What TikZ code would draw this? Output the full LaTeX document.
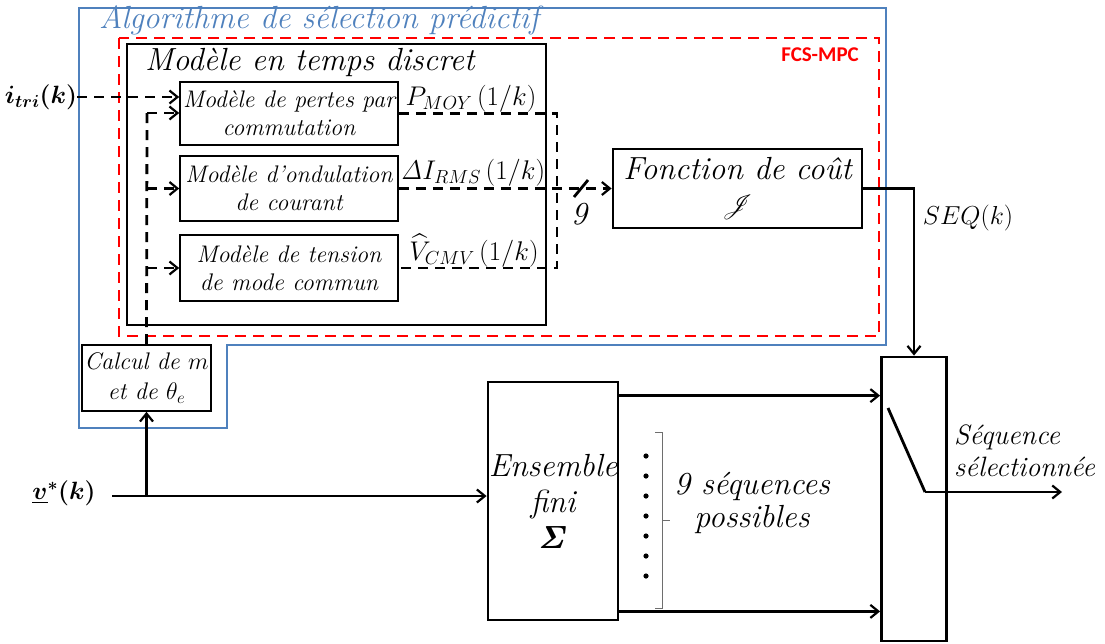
\documentclass[tikz,border=0pt]{standalone}
\usepackage{fix-cm}
\usepackage[no-math]{fontspec}
\usepackage{amsmath}
\usepackage{amssymb}
\usepackage{mathrsfs}
\usepackage{tikz}
\usetikzlibrary{arrows.meta, positioning, calc}
\newfontfamily\calibrifont{Carlito}
\definecolor{algoBlue}{RGB}{79, 129, 189}
\definecolor{mpcRed}{RGB}{255, 0, 0}
\definecolor{braceGray}{RGB}{110, 110, 110}

\begin{document}
\begin{tikzpicture}[
      x=1pt, y=-1pt,
      blk/.style    = {draw, line width=2.8pt, inner sep=0pt,
                       align=center, font=\fontsize{32}{36}\selectfont\itshape},
      modele/.style = {draw, line width=1.6pt, inner sep=0pt,
                       minimum width=218pt, align=center,
                       font=\fontsize{24}{28}\selectfont\itshape},
      lbl/.style    = {inner sep=0pt, font=\fontsize{26}{28}\selectfont\itshape},
      grand/.style  = {inner sep=0pt, font=\fontsize{32}{33}\selectfont\itshape},
      arrow/.style  = {-{Straight Barb[length=8pt, width=13pt, line width=2.2pt]}, line width=2.8pt},
      dasharrow/.style = {arrow, dash pattern=on 10pt off 7pt},
      dashline/.style  = {line width=2.8pt, dash pattern=on 10pt off 7pt},
    ]
    \useasboundingbox (0,0) rectangle (1105,643);
    %% ── Cadres ────────────────────────────────────────────────
    \draw[algoBlue, line width=2.6pt]
      (79,8) -- (886,8) -- (886,345) -- (227,345) -- (227,428) -- (79,428) -- cycle;
    \node[grand, anchor=west, text=algoBlue] (algoTitle) at (99,20)
      {Algorithme de sélection prédictif};
    \draw[mpcRed, line width=2.6pt, dash pattern=on 11pt off 7pt]
      (119,38) rectangle (879,336);
    \node[anchor=north east, inner sep=0pt, text=mpcRed,
          font=\fontsize{21}{24}\selectfont\calibrifont\bfseries] (mpcTitle) at (859,48) {FCS-MPC};
    \node[draw, line width=2.8pt, minimum width=419pt, minimum height=281pt] (discret) at (336.5,184.5) {};
    \node[grand, anchor=west] (discretTitle) at (145,62) {Modèle en temps discret};
    %% ── Nodos ──────────────────────────────────────────────────
    \node[modele, minimum height=63pt] (pertes) at (289,113.5) {Modèle de pertes par\\commutation};
    \node[modele, minimum height=65pt] (ondulation) at (289,188.5) {Modèle d’ondulation\\de courant};
    \node[modele, minimum height=66pt] (tension) at (289,268) {Modèle de tension\\de mode commun};
    \node[blk, minimum width=249pt, minimum height=79pt] (fonction) at (737.5,188.5)
      {Fonction de coût\\[-3pt]$\mathscr{J}$};
    \node[modele, minimum width=129pt, minimum height=66pt, font=\fontsize{24}{30}\selectfont\itshape]
      (calcul) at (146.5,378) {Calcul de $m$\\et de $\theta_e$};
    \node[blk, minimum width=130pt, minimum height=238pt] (ensemble) at (553,501)
      {Ensemble\\fini\\$\boldsymbol{\mathit{\Sigma}}$};
    \node[draw, line width=2.8pt, minimum width=65pt, minimum height=284pt] (selecteur) at (914,499) {};
    %% ── Etiquettes ─────────────────────────────────────────────
    \node[lbl, font=\fontsize{25}{28}\selectfont] (itri) at (41,97) {$\boldsymbol{i_{tri}(k)}$};
    \node[lbl, font=\fontsize{25}{28}\selectfont] (vref) at (64,493) {$\boldsymbol{\underline{v}^{*}(k)}$};
    \node[lbl, font=\fontsize{27}{28}\selectfont] (pmoy) at (471,99) {$P_{MOY}\,(1/k)$};
    \node[lbl, font=\fontsize{27}{28}\selectfont] (irms) at (473,173) {$\mathit{\Delta} I_{RMS}\,(1/k)$};
    \node[lbl, font=\fontsize{27}{28}\selectfont] (vcmv) at (474,251) {$\widehat{V}_{CMV}\,(1/k)$};
    \node[grand] (neuf) at (579,214) {9};
    \node[lbl] (seq) at (968,218) {$SEQ(k)$};
    \node[inner sep=0pt, font=\fontsize{28}{32}\selectfont\itshape, align=left, anchor=west]
      (choix) at (954,451) {Séquence\\sélectionnée};
    \node[grand, align=center] (possibles) at (752,503) {9 séquences\\possibles};
    %% ── Flechas ────────────────────────────────────────────────
    \coordinate (collect) at (557,0);
    \coordinate (feedTop) at (147,113);
    \draw[dasharrow] (itri.east |- 0,97) -- (pertes.west |- 0,97);
    \draw[dashline] (calcul.north) -- (feedTop);
    \draw[dasharrow] (feedTop) -- (feedTop -| pertes.west);
    \draw[dasharrow] (feedTop |- ondulation.west) -- (ondulation.west);
    \draw[dasharrow] (feedTop |- tension.west) -- (tension.west);
    \draw[dashline] (pertes.east) -- (pertes.east -| collect)
      -- (tension.east -| collect) -- (tension.east);
    \draw[dasharrow] (ondulation.east) -- (fonction.west);
    \draw[line width=2.8pt] (574,197) -- (588,180);
    \draw[arrow] (fonction.east) -| (selecteur.north);
    \coordinate (vstart) at (112,496);
    \draw[arrow] (vstart) -- (vstart -| ensemble.west);
    \draw[arrow] (calcul.south |- vstart) -- (calcul.south);
    \coordinate (ensHaut) at ($(ensemble.north east)+(0,15)$);
    \coordinate (ensBas) at ($(ensemble.south east)+(0,-10)$);
    \draw[arrow] (ensHaut) -- (ensHaut -| selecteur.west);
    \draw[arrow] (ensBas) -- (ensBas -| selecteur.west);
    %% ── Commutateur ────────────────────────────────────────────
    \coordinate (swA) at (888,408);
    \coordinate (swB) at (925,492);
    \coordinate (swOut) at (1062,492);
    \draw[line width=2.8pt] (swA) -- (swB);
    \draw[arrow] (swB) -- (swOut);
    %% ── 9 séquences ────────────────────────────────────────────
    \foreach \k in {0,...,6}
      \fill (646,{456+20*\k}) circle (2.6pt);
    \draw[braceGray, line width=1pt] (655,432) -- (662,432) -- (662,608) -- (655,608)
      (662,520) -- (670,520);
  \end{tikzpicture}
\end{document}
